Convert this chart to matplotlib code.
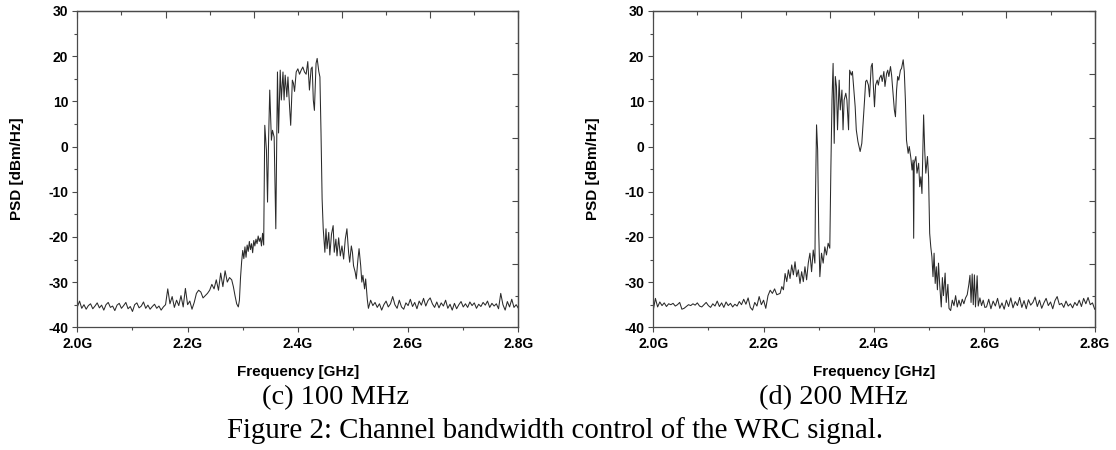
"""
Channel bandwidth control of the WRC signal: PSD traces for 100 MHz and 200 MHz.
"""

import matplotlib
matplotlib.use("Agg")  # non-interactive backend
import matplotlib.pyplot as plt
from matplotlib.ticker import FixedLocator, MultipleLocator

plt.rcParams["font.family"] = ["Liberation Sans", "DejaVu Sans"]
plt.rcParams["axes.unicode_minus"] = False

# ── Data (frequency in GHz, PSD in dBm/Hz) ──────────────────────────────
freq_c = [
    2.000, 2.004, 2.008, 2.012, 2.016, 2.020, 2.024, 2.028, 2.032, 2.036,
    2.040, 2.044, 2.048, 2.052, 2.056, 2.060, 2.064, 2.068, 2.072, 2.076,
    2.080, 2.084, 2.088, 2.092, 2.096, 2.100, 2.104, 2.108, 2.112, 2.116,
    2.120, 2.124, 2.128, 2.132, 2.136, 2.140, 2.144, 2.148, 2.152, 2.156,
    2.160, 2.164, 2.168, 2.172, 2.176, 2.180, 2.184, 2.188, 2.192, 2.196,
    2.200, 2.204, 2.208, 2.212, 2.216, 2.220, 2.224, 2.228, 2.232, 2.236,
    2.240, 2.244, 2.248, 2.252, 2.256, 2.260, 2.264, 2.268, 2.272, 2.276,
    2.280,
    2.283, 2.286, 2.289, 2.292, 2.294, 2.296, 2.298, 2.300, 2.302, 2.304,
    2.306, 2.308, 2.310, 2.312, 2.314, 2.316, 2.318, 2.320, 2.322, 2.324,
    2.326, 2.328, 2.330, 2.332, 2.334, 2.336, 2.338, 2.340, 2.343, 2.345,
    2.347, 2.349, 2.352, 2.354, 2.357, 2.360, 2.363, 2.365, 2.368, 2.370,
    2.373, 2.375, 2.377, 2.380, 2.382, 2.385, 2.387, 2.390, 2.392, 2.394,
    2.397, 2.400, 2.403, 2.406, 2.409, 2.412, 2.415, 2.418, 2.421, 2.424,
    2.426, 2.428, 2.430, 2.433, 2.435, 2.438, 2.440, 2.442, 2.444, 2.446,
    2.449, 2.451, 2.453, 2.456, 2.458, 2.461, 2.464, 2.466, 2.469, 2.471,
    2.474, 2.477, 2.480, 2.483, 2.486, 2.489, 2.492, 2.494, 2.497, 2.499,
    2.501, 2.504, 2.506, 2.509, 2.511, 2.514, 2.516, 2.518, 2.521, 2.523,
    2.526,
    2.528, 2.532, 2.536, 2.540, 2.544, 2.548, 2.552, 2.556, 2.560, 2.564,
    2.568, 2.572, 2.576, 2.580, 2.584, 2.588, 2.592, 2.596, 2.600, 2.604,
    2.608, 2.612, 2.616, 2.620, 2.624, 2.628, 2.632, 2.636, 2.640, 2.644,
    2.648, 2.652, 2.656, 2.660, 2.664, 2.668, 2.672, 2.676, 2.680, 2.684,
    2.688, 2.692, 2.696, 2.700, 2.704, 2.708, 2.712, 2.716, 2.720, 2.724,
    2.728, 2.732, 2.736, 2.740, 2.744, 2.748, 2.752, 2.756, 2.760, 2.764,
    2.768, 2.772, 2.776, 2.780, 2.784, 2.788, 2.792, 2.796, 2.800,
]
psd_c = [
    -35.5, -34.2, -35.8, -35.0, -36.0, -35.2, -34.8, -35.9, -35.3, -34.6,
    -35.7, -35.1, -36.2, -35.0, -34.5, -35.6, -35.3, -36.3, -35.1, -34.7,
    -35.8, -35.2, -34.5, -35.9, -35.4, -36.5, -35.0, -34.6, -35.7, -35.3,
    -34.4, -35.8, -35.1, -36.0, -35.4, -34.9, -35.8, -35.3, -36.2, -35.5,
    -35.0, -31.5, -34.8, -33.2, -35.6, -34.0, -35.2, -33.0, -35.5, -31.4,
    -35.0, -34.2, -36.0, -34.5, -32.5, -31.8, -32.2, -33.5, -33.0, -32.5,
    -31.8, -30.5, -31.5, -29.5, -31.8, -28.0, -31.0, -27.5, -30.0, -29.0,
    -29.5,
    -31.0, -33.0, -34.8, -35.5, -34.0, -29.0, -25.5, -23.0, -24.8, -22.2,
    -24.5, -21.8, -23.2, -21.0, -22.8, -21.5, -23.5, -20.8, -22.0, -20.5,
    -21.5, -19.8, -21.0, -20.2, -22.0, -19.2, -21.8, 4.7, -0.8, -12.3,
    2.1, 12.5, 1.4, 3.6, 2.1, -18.2, 16.5, 3.0, 16.9, 10.3,
    16.5, 10.3, 15.8, 11.0, 15.4, 8.7, 4.7, 14.7, 14.0, 12.2,
    16.5, 17.2, 16.0, 16.9, 17.6, 16.5, 16.0, 18.8, 12.5, 17.2,
    17.6, 10.3, 8.0, 18.4, 19.5, 16.6, 15.4, 3.0, -11.6, -18.2,
    -23.4, -18.2, -22.6, -19.0, -24.0, -19.4, -17.5, -23.4, -20.5, -24.2,
    -20.2, -24.2, -22.0, -24.9, -20.5, -18.2, -23.4, -25.6, -22.0, -23.4,
    -26.4, -27.8, -29.3, -24.9, -22.6, -26.4, -30.0, -28.5, -31.5, -29.3,
    -33.9,
    -35.8, -34.0, -35.2, -34.5, -35.6, -34.8, -36.2, -35.0, -34.2, -35.5,
    -34.8, -33.2, -35.0, -35.8, -34.0, -35.5, -36.0, -34.6, -35.2, -33.8,
    -35.4, -34.5, -35.9, -34.2, -35.1, -33.6, -35.3, -34.1, -33.5, -34.8,
    -35.6, -34.4, -35.7, -34.6, -35.3, -34.0, -35.8, -34.9, -36.2, -34.7,
    -35.9, -35.0, -34.3, -35.5, -34.8, -35.6, -34.4, -35.2, -34.6, -35.8,
    -34.9, -35.4, -34.5, -35.1, -34.2, -35.6, -34.7, -35.3, -34.8, -35.9,
    -32.5, -35.0, -36.2, -34.3, -35.5, -33.8, -35.6, -35.0, -35.8,
]

freq_d = [
    2.000, 2.004, 2.008, 2.012, 2.016, 2.020, 2.024, 2.028, 2.032, 2.036,
    2.040, 2.044, 2.048, 2.052, 2.056, 2.060, 2.064, 2.068, 2.072, 2.076,
    2.080, 2.084, 2.088, 2.092, 2.096, 2.100, 2.104, 2.108, 2.112, 2.116,
    2.120, 2.124, 2.128, 2.132, 2.136, 2.140, 2.144, 2.148, 2.152, 2.156,
    2.160, 2.164, 2.168, 2.172, 2.176, 2.180, 2.184, 2.188, 2.192, 2.196,
    2.200, 2.204, 2.208, 2.212, 2.216, 2.220, 2.224,
    2.230, 2.233, 2.236, 2.239, 2.242, 2.245, 2.248, 2.251, 2.254, 2.257,
    2.260, 2.263, 2.266, 2.269, 2.272, 2.275, 2.278, 2.281, 2.284, 2.287,
    2.290, 2.293, 2.294, 2.296, 2.298, 2.300, 2.302, 2.305, 2.308, 2.311,
    2.314, 2.317, 2.320, 2.322, 2.324, 2.326, 2.328, 2.330, 2.332, 2.334,
    2.337, 2.339, 2.342, 2.344, 2.346, 2.349, 2.351, 2.354, 2.356, 2.359,
    2.361, 2.363, 2.366, 2.368, 2.371, 2.373, 2.375, 2.378, 2.380, 2.383,
    2.385, 2.387, 2.390, 2.392, 2.395, 2.397, 2.399, 2.401, 2.403, 2.406,
    2.408, 2.410, 2.413, 2.415, 2.418, 2.420, 2.423, 2.425, 2.427, 2.430,
    2.432, 2.435, 2.437, 2.439, 2.441, 2.443, 2.445, 2.448, 2.450, 2.453,
    2.455, 2.457, 2.459, 2.462, 2.464, 2.467, 2.469, 2.471, 2.472, 2.473,
    2.476, 2.478, 2.481, 2.483, 2.485, 2.487, 2.490, 2.492, 2.494, 2.497,
    2.499, 2.501, 2.503, 2.505, 2.507, 2.509, 2.511, 2.513, 2.515, 2.517,
    2.519, 2.522, 2.524, 2.526, 2.529, 2.531, 2.534, 2.536, 2.539, 2.542,
    2.545, 2.548, 2.551, 2.554, 2.557, 2.560, 2.563, 2.566, 2.569, 2.572,
    2.574, 2.576, 2.578, 2.580, 2.582, 2.584, 2.587, 2.589, 2.592, 2.595,
    2.598, 2.601,
    2.604, 2.608, 2.612, 2.616, 2.620, 2.624, 2.628, 2.632, 2.636, 2.640,
    2.644, 2.648, 2.652, 2.656, 2.660, 2.664, 2.668, 2.672, 2.676, 2.680,
    2.684, 2.688, 2.692, 2.696, 2.700, 2.704, 2.708, 2.712, 2.716, 2.720,
    2.724, 2.728, 2.732, 2.736, 2.740, 2.744, 2.748, 2.752, 2.756, 2.760,
    2.764, 2.768, 2.772, 2.776, 2.780, 2.784, 2.788, 2.792, 2.796, 2.800,
]
psd_d = [
    -36.3, -33.6, -35.5, -34.4, -35.2, -34.6, -35.4, -34.8, -35.0, -34.7,
    -35.3, -35.0, -34.5, -36.0, -35.8, -35.4, -35.0, -35.2, -34.8, -35.1,
    -34.6, -35.3, -35.5, -35.0, -34.5, -35.2, -35.6, -34.8, -35.3, -34.2,
    -35.4, -34.6, -35.6, -34.4, -35.2, -34.7, -35.5, -34.9, -35.3, -34.3,
    -35.0, -33.8, -34.9, -33.5, -35.6, -36.2, -34.5, -35.3, -33.2, -35.0,
    -34.0, -35.8, -33.0, -31.8, -32.5, -31.5, -32.8,
    -32.5, -31.0, -31.7, -28.1, -29.9, -27.3, -29.2, -26.2, -28.4, -25.5,
    -28.8, -27.3, -30.3, -27.7, -29.9, -26.6, -29.5, -25.8, -23.6, -27.7,
    -22.9, -25.8, -11.8, 4.8, -0.8, -19.2, -28.8, -23.6, -25.8, -22.2,
    -24.0, -21.4, -22.5, -4.5, 10.3, 18.4, 0.7, 15.5, 13.3, 3.7,
    14.7, 8.1, 12.5, 3.7, 10.3, 11.8, 10.3, 3.7, 16.9, 15.8,
    16.6, 13.6, 8.8, 3.7, 1.1, 0.0, -1.1, 0.7, 4.4, 10.3,
    14.4, 14.7, 13.6, 11.0, 17.7, 18.4, 13.3, 8.8, 13.6, 14.7,
    13.6, 15.1, 15.8, 14.4, 16.6, 13.3, 16.2, 16.9, 15.5, 17.7,
    15.8, 11.0, 8.1, 6.6, 12.5, 15.5, 14.7, 16.9, 17.3, 19.2,
    16.6, 10.3, 1.4, -1.5, 0.0, -2.6, -5.2, -3.0, -20.3, -3.7,
    -2.2, -5.9, -3.7, -8.9, -6.7, -10.4, 7.0, -0.8, -5.9, -2.2,
    -6.7, -19.2, -22.2, -24.4, -28.8, -23.6, -30.3, -26.6, -31.7, -25.8,
    -30.3, -35.5, -29.0, -33.0, -28.0, -34.5, -30.5, -35.8, -36.3, -34.0,
    -35.2, -33.0, -35.5, -34.0, -35.3, -33.8, -34.8, -33.5, -32.8, -30.5,
    -28.5, -34.5, -28.2, -35.0, -28.4, -35.5, -28.6, -35.3, -33.5, -35.2,
    -34.0, -35.6,
    -35.5, -33.8, -35.9, -34.2, -35.3, -33.6, -35.8, -34.6, -36.0, -34.0,
    -35.4, -33.5, -35.7, -34.3, -35.2, -33.4, -35.6, -34.1, -35.9, -33.9,
    -35.1, -34.5, -33.3, -35.4, -34.0, -35.8, -34.6, -33.6, -35.2, -34.4,
    -35.9, -34.1, -33.2, -35.0, -34.7, -35.6, -34.2, -35.3, -34.8, -35.7,
    -34.5, -35.2, -34.0, -35.4, -33.6, -34.8, -33.4, -35.0, -34.6, -36.0,
]

# ── Axis ticks and texts ──────────────────────────────────────────────
xtick_vals = [2.0, 2.2, 2.4, 2.6, 2.8]
xtick_labels = ["2.0G", "2.2G", "2.4G", "2.6G", "2.8G"]
ytick_vals = [30, 20, 10, 0, -10, -20, -30, -40]
top_major = [2.0, 2.16, 2.32, 2.48, 2.64, 2.8]
top_minor = [2.08, 2.24, 2.40, 2.56, 2.72]
right_major = [30, 16, 2, -12, -26, -40]
right_minor = [23, 9, -5, -19, -33]

sub_captions = ["(c) 100 MHz", "(d) 200 MHz"]
fig_caption = "Figure 2: Channel bandwidth control of the WRC signal."

FRAME = "#4a4a4a"
TRACE = "#2a2a2a"


def style_panel(ax):
    ax.set_xlim(2.0, 2.8)
    ax.set_ylim(-40, 30)
    ax.set_xticks(xtick_vals)
    ax.set_xticklabels(xtick_labels)
    ax.set_yticks(ytick_vals)
    ax.xaxis.set_minor_locator(MultipleLocator(0.1))
    ax.yaxis.set_minor_locator(MultipleLocator(5))
    ax.tick_params(which="major", direction="out", length=3.3, width=0.8,
                   color=FRAME, labelsize=10)
    ax.tick_params(which="minor", direction="out", length=1.9, width=0.8, color=FRAME)
    ax.tick_params(axis="x", pad=3.5)
    ax.tick_params(axis="y", pad=3.2)
    for lbl in ax.get_xticklabels() + ax.get_yticklabels():
        lbl.set_fontweight("bold")
    for sp in ax.spines.values():
        sp.set_color(FRAME)
        sp.set_linewidth(0.9)

    # top / right axes carry their own unlabelled tick scales
    top = ax.secondary_xaxis("top")
    top.xaxis.set_major_locator(FixedLocator(top_major))
    top.xaxis.set_minor_locator(FixedLocator(top_minor))
    top.tick_params(which="major", direction="in", length=5.0, width=0.8,
                    color=FRAME, labeltop=False)
    top.tick_params(which="minor", direction="in", length=2.9, width=0.8, color=FRAME)
    top.spines["top"].set_color(FRAME)
    top.spines["top"].set_linewidth(0.9)

    right = ax.secondary_yaxis("right")
    right.yaxis.set_major_locator(FixedLocator(right_major))
    right.yaxis.set_minor_locator(FixedLocator(right_minor))
    right.tick_params(which="major", direction="in", length=4.3, width=0.8,
                      color=FRAME, labelright=False)
    right.tick_params(which="minor", direction="in", length=2.0, width=0.8, color=FRAME)
    right.spines["right"].set_color(FRAME)
    right.spines["right"].set_linewidth(0.9)

    ax.set_xlabel("Frequency [GHz]", fontsize=11, fontweight="bold")
    ax.set_ylabel("PSD [dBm/Hz]", fontsize=11, fontweight="bold")
    ax.xaxis.set_label_coords(0.5, -0.118)
    ax.yaxis.set_label_coords(-0.12, 0.5)


fig = plt.figure(figsize=(11.16, 4.5), dpi=100)
fig.patch.set_facecolor("white")

ax_c = fig.add_axes([0.0693, 0.2727, 0.3952, 0.7029])
ax_d = fig.add_axes([0.5853, 0.2727, 0.3956, 0.7029])

ax_c.plot(freq_c, psd_c, color=TRACE, linewidth=0.75)
ax_d.plot(freq_d, psd_d, color=TRACE, linewidth=0.75)

style_panel(ax_c)
style_panel(ax_d)

serif = ["Liberation Serif", "DejaVu Serif"]
fig.text(336 / 1116, 1 - 398 / 450, sub_captions[0], ha="center", va="center",
         fontsize=20.5, family=serif, fontweight="normal")
fig.text(833 / 1116, 1 - 398 / 450, sub_captions[1], ha="center", va="center",
         fontsize=20.5, family=serif, fontweight="normal")
fig.text(555 / 1116, 1 - 431 / 450, fig_caption, ha="center", va="center",
         fontsize=20.8, family=serif, fontweight="normal")

fig.savefig("out.png", dpi=100, facecolor="white")
